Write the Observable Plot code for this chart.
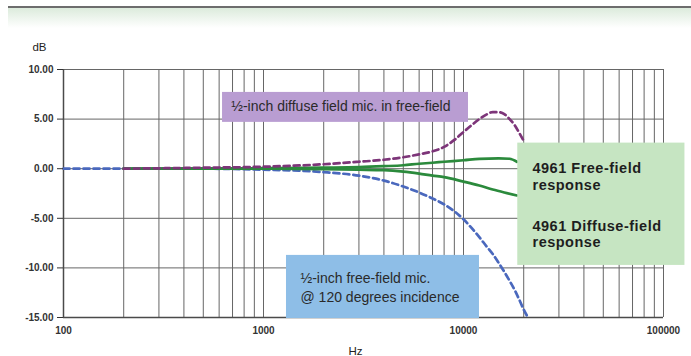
<!DOCTYPE html>
<html>
<head>
<meta charset="utf-8">
<script src="https://cdn.jsdelivr.net/npm/d3@7"></script>
<script src="https://cdn.jsdelivr.net/npm/@observablehq/plot@0.6"></script>
<style>
  html, body { margin: 0; padding: 0; background: #fff; }
  #wrap { position: relative; width: 691px; height: 356px; overflow: hidden; }
  #rule { position: absolute; left: 8px; right: 0; top: 6px; height: 2px; background: #6d6d6d; }
  #band { position: absolute; left: 8px; right: 0; top: 8px; height: 20px; background: linear-gradient(#dcebdc, #ffffff); }
  #chart { position: absolute; left: 0; top: 0; }
  .spaced { letter-spacing: 0.5px; }
</style>
</head>
<body>
<div id="wrap"><div id="chart"></div><div id="band"></div><div id="rule"></div></div>
<script>
// ---- data ----
const xTickLabels = [100, 1000, 10000, 100000];
const yTickValues = [-15, -10, -5, 0, 5, 10];

// 1/2-inch free-field mic @ 120 degrees incidence (blue dashed)
const blueFreq = [100, 200, 500, 1000, 1500, 2000, 3000, 4000, 5000, 6000, 7000, 8000, 9000, 10000, 11000, 12000, 13000, 14000, 15000, 16000, 17000, 18000, 19000, 20000, 21000];
const blueDb   = [0, 0, 0, -0.1, -0.2, -0.35, -0.7, -1.2, -1.8, -2.4, -3.0, -3.6, -4.3, -5.1, -6.0, -6.9, -7.8, -8.6, -9.5, -10.4, -11.3, -12.2, -13.2, -14.2, -15.0];

// 1/2-inch diffuse field mic in free-field (purple dashed)
const purpleFreq = [200, 500, 1000, 2000, 3000, 4000, 5000, 6000, 7000, 8000, 9000, 10000, 11000, 12000, 13000, 14000, 15000, 16000, 17000, 18000, 19000, 20000];
const purpleDb   = [0, 0.1, 0.2, 0.45, 0.7, 0.9, 1.15, 1.45, 1.75, 2.2, 2.9, 3.7, 4.4, 5.0, 5.45, 5.7, 5.7, 5.5, 5.0, 4.4, 3.6, 2.8];

// 4961 Free-field response (green, upper)
const ffFreq = [200, 1000, 2000, 3000, 4000, 5000, 6000, 7000, 8000, 10000, 12000, 15000, 17000, 18500];
const ffDb   = [0, 0.05, 0.1, 0.15, 0.25, 0.35, 0.5, 0.6, 0.7, 0.85, 1.0, 1.05, 1.0, 0.7];

// 4961 Diffuse-field response (green, lower)
const dfFreq = [200, 1000, 2000, 3000, 4000, 5000, 6000, 7000, 8000, 10000, 12000, 14000, 16000, 18500];
const dfDb   = [0, 0, -0.05, -0.1, -0.15, -0.3, -0.5, -0.7, -0.85, -1.3, -1.7, -2.1, -2.4, -2.7];

// annotation boxes (in data units: Hz, dB)
const boxNames = ["purple", "green", "blue"];
const boxF1 = [624, 18680, 1303];
const boxF2 = [10590, 128000, 12020];
const boxDb1 = [7.69, 2.58, -8.74];
const boxDb2 = [4.67, -9.75, -15.1];

const toRows = (fs, vs) => fs.map((f, i) => ({f, db: vs[i]}));
const boxes = boxNames.map((n, i) => ({n, f1: boxF1[i], f2: boxF2[i], d1: boxDb1[i], d2: boxDb2[i]}));
const boxFill = {purple: "#b99dd2", green: "#c6e5c2", blue: "#8ebee7"};

const font = "'Liberation Sans', Arial, Helvetica, sans-serif";

const chart = Plot.plot({
  width: 691,
  height: 356,
  marginLeft: 63,
  marginRight: 28,
  marginTop: 69,
  marginBottom: 39,
  x: {type: "log", domain: [100, 100000]},
  y: {domain: [-15, 10]},
  style: {fontFamily: font, background: "transparent", color: "#222"},
  marks: [
    Plot.gridX({stroke: "#666", strokeOpacity: 1, strokeWidth: 1}),
    Plot.gridY({ticks: yTickValues, stroke: "#666", strokeOpacity: 1, strokeWidth: 1}),
    Plot.ruleX([100], {stroke: "#4a4a4a", strokeWidth: 1.5}),
    Plot.ruleY([-15], {stroke: "#4a4a4a", strokeWidth: 1.5}),
    Plot.line(toRows(blueFreq, blueDb), {x: "f", y: "db", stroke: "#4a68bd", strokeWidth: 2.7, strokeDasharray: "6,4", curve: "monotone-x"}),
    Plot.line(toRows(ffFreq, ffDb), {x: "f", y: "db", stroke: "#2b8a3c", strokeWidth: 2.7, curve: "monotone-x"}),
    Plot.line(toRows(dfFreq, dfDb), {x: "f", y: "db", stroke: "#2b8a3c", strokeWidth: 2.7, curve: "monotone-x"}),
    Plot.line(toRows(purpleFreq, purpleDb), {x: "f", y: "db", stroke: "#7d3579", strokeWidth: 2.7, strokeDasharray: "6,4", curve: "monotone-x"}),
    Plot.rect(boxes, {x1: "f1", x2: "f2", y1: "d1", y2: "d2", fill: d => boxFill[d.n]}),
    Plot.text(["½-inch diffuse field mic. in free-field"], {x: 690, y: 6.27, textAnchor: "start", lineAnchor: "middle", fontSize: 14, fill: "#2a2a2a"}),
    Plot.text(["½-inch free-field mic.\n@ 120 degrees incidence"], {x: 1531, y: -11.9, textAnchor: "start", lineAnchor: "middle", fontSize: 14, lineHeight: 1.36, fill: "#2a2a2a"}),
    Plot.text(["4961 Free-field\nresponse"], {x: 22130, y: -0.75, textAnchor: "start", lineAnchor: "middle", fontSize: 14.5, fontWeight: "bold", lineHeight: 1.15, fill: "#1e1e1e", className: "spaced"}),
    Plot.text(["4961 Diffuse-field\nresponse"], {x: 22130, y: -6.55, textAnchor: "start", lineAnchor: "middle", fontSize: 14.5, fontWeight: "bold", lineHeight: 1.15, fill: "#1e1e1e", className: "spaced"}),
    Plot.axisX({ticks: xTickLabels, tickFormat: d => String(d), tickSize: 0, tickPadding: 9, fontSize: 10, fontWeight: "bold", color: "#333", label: null}),
    Plot.axisY({ticks: yTickValues, tickFormat: d => d.toFixed(2), tickSize: 6, tickPadding: 4, fontSize: 10, fontWeight: "bold", color: "#333", label: null}),
    Plot.text(["dB"], {frameAnchor: "top-left", dx: -24, dy: -22, fontSize: 11.5, fill: "#222", textAnchor: "middle", lineAnchor: "middle"}),
    Plot.text(["Hz"], {frameAnchor: "bottom", dx: -8, dy: 34, fontSize: 11.5, fill: "#222", textAnchor: "middle", lineAnchor: "middle"})
  ]
});
// widen the bold legend text slightly, like the reference
d3.select(chart).selectAll("text").filter(function() {
  return /^4961|^response/.test(this.textContent);
}).attr("letter-spacing", "0.5px");
document.getElementById("chart").appendChild(chart);
</script>
</body>
</html>
